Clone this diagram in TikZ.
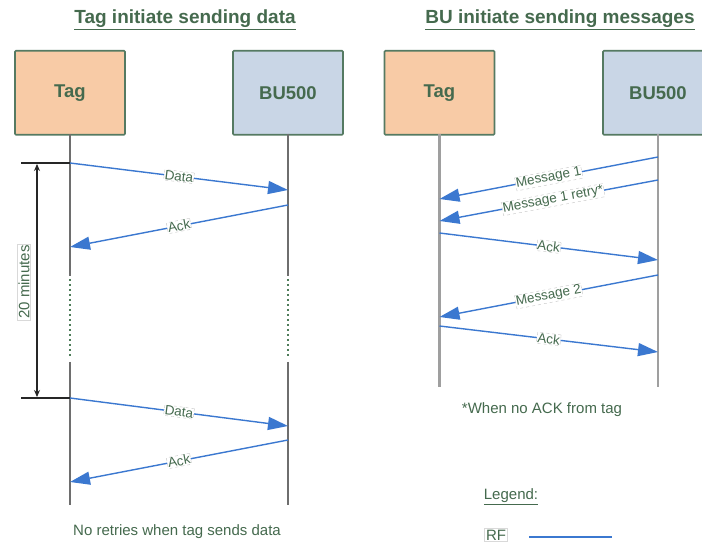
\documentclass[tikz,border=0pt]{standalone}
\usepackage{fontspec}
\setmainfont{Liberation Sans}
\usetikzlibrary{arrows.meta}
\definecolor{txtgreen}{HTML}{456A4E}
\definecolor{boxborder}{HTML}{557A62}
\definecolor{tagfill}{HTML}{F8CBA6}
\definecolor{bufill}{HTML}{C9D6E6}
\definecolor{rfblue}{HTML}{3B78D0}
\definecolor{lifegray}{HTML}{6E6E6E}
\definecolor{dotgreen}{HTML}{4F7D5A}
\tikzset{
  actor/.style={draw=boxborder, line width=1.6pt, rounded corners=1pt,
    minimum width=110pt, minimum height=84pt, anchor=north, inner sep=0pt,
    text=txtgreen, font=\fontsize{18.5}{20}\selectfont\bfseries},
  tagbox/.style={actor, fill=tagfill},
  bubox/.style={actor, fill=bufill},
  lifeline/.style={draw=lifegray, line width=2.2pt},
  lifedots/.style={draw=dotgreen, line width=2.4pt, dash pattern=on 2pt off 3pt},
  msg/.style={draw=rfblue, line width=1.4pt, -{Triangle[length=20pt,width=13pt]}},
  lbl/.style={fill=white, draw=gray!45, dashed, line width=0.4pt, inner sep=0.6pt,
    text=txtgreen, font=\fontsize{13.5}{15}\selectfont, sloped, midway},
  titletxt/.style={text=txtgreen, font=\fontsize{19}{21}\selectfont\bfseries, inner sep=0pt},
  note/.style={text=txtgreen, font=\fontsize{15}{17}\selectfont, inner sep=0pt},
  bracket/.style={draw=black!85, line width=1.2pt},
}
\begin{document}
\begin{tikzpicture}[x=1pt,y=-1pt]
\useasboundingbox (0,0) rectangle (702,545);
\clip (0,0) rectangle (702,545);
\fill[white] (0,0) rectangle (702,545);

% titles
\node[titletxt] (t1) at (185,20) {\underline{Tag initiate sending data}};
\node[titletxt] (t2) at (560,20) {\underline{BU initiate sending messages}};

% actor boxes
\node[tagbox] (tag1) at (70,50) {Tag};
\node[bubox] (bu1) at (288,50) {BU500};
\node[tagbox] (tag2) at (439.5,50) {Tag};
\node[bubox] (bu2) at (658,50) {BU500};

% left lifelines
\foreach \n/\x in {a/70, b/288} {
  \coordinate (\n0) at (\x,134);
  \coordinate (\n1) at (\x,276);
  \coordinate (\n2) at (\x,279);
  \coordinate (\n3) at (\x,357);
  \coordinate (\n4) at (\x,362);
  \coordinate (\n5) at (\x,505);
  \draw[lifeline] (\n0) -- (\n1);
  \draw[lifedots] (\n2) -- (\n3);
  \draw[lifeline] (\n4) -- (\n5);
}
% right lifelines
\coordinate (c0) at (439.5,134);
\coordinate (c1) at (439.5,387);
\coordinate (d0) at (658,134);
\coordinate (d1) at (658,387);
\draw[lifeline, draw=gray!75] (c0) -- (c1);
\draw[lifeline, draw=gray!75] (d0) -- (d1);

% 20 minutes bracket
\coordinate (h1s) at (21,163);
\coordinate (h1e) at (70,163);
\coordinate (h2s) at (21,398);
\coordinate (h2e) at (70,398);
\coordinate (v1) at (37,164);
\coordinate (v2) at (37,397);
\draw[bracket] (h1s) -- (h1e);
\draw[bracket] (h2s) -- (h2e);
\draw[bracket, {Stealth[length=7pt,width=6pt]}-{Stealth[length=7pt,width=6pt]}] (v1) -- (v2);
\node[note, rotate=90, fill=white, draw=gray!30, line width=0.3pt, inner sep=1pt] (mins) at (24,282) {20 minutes};

% left panel messages
\coordinate (m1s) at (70,163);   \coordinate (m1e) at (288,190);
\coordinate (m2s) at (288,205);  \coordinate (m2e) at (70,247);
\coordinate (m3s) at (70,398);   \coordinate (m3e) at (288,426);
\coordinate (m4s) at (288,440);  \coordinate (m4e) at (70,482);
\draw[msg] (m1s) -- (m1e) node[lbl] (l1) {Data};
\draw[msg] (m2s) -- (m2e) node[lbl] (l2) {Ack};
\draw[msg] (m3s) -- (m3e) node[lbl] (l3) {Data};
\draw[msg] (m4s) -- (m4e) node[lbl] (l4) {Ack};

% right panel messages
\coordinate (n1s) at (658,157);  \coordinate (n1e) at (439.5,199);
\coordinate (n2s) at (658,180);  \coordinate (n2e) at (439.5,221);
\coordinate (n3s) at (439.5,233);\coordinate (n3e) at (658,260);
\coordinate (n4s) at (658,275);  \coordinate (n4e) at (439.5,317);
\coordinate (n5s) at (439.5,326);\coordinate (n5e) at (658,352);
\draw[msg] (n1s) -- (n1e) node[lbl] (k1) {Message 1};
\draw[msg] (n2s) -- (n2e) node[lbl, pos=0.48] (k2) {Message 1 retry*};
\draw[msg] (n3s) -- (n3e) node[lbl] (k3) {Ack};
\draw[msg] (n4s) -- (n4e) node[lbl] (k4) {Message 2};
\draw[msg] (n5s) -- (n5e) node[lbl] (k5) {Ack};

% notes
\node[note] (noretry) at (177,532) {No retries when tag sends data};
\node[note] (noack) at (542,410) {*When no ACK from tag};
\node[note] (legend) at (511,497) {\underline{Legend:}};
\node[note, draw=gray!30, line width=0.4pt, inner sep=1.5pt] (rf) at (496,535) {RF};
\coordinate (rf1) at (529,537);
\coordinate (rf2) at (612,537);
\draw[draw=rfblue, line width=1.6pt] (rf1) -- (rf2);
\end{tikzpicture}
\end{document}
